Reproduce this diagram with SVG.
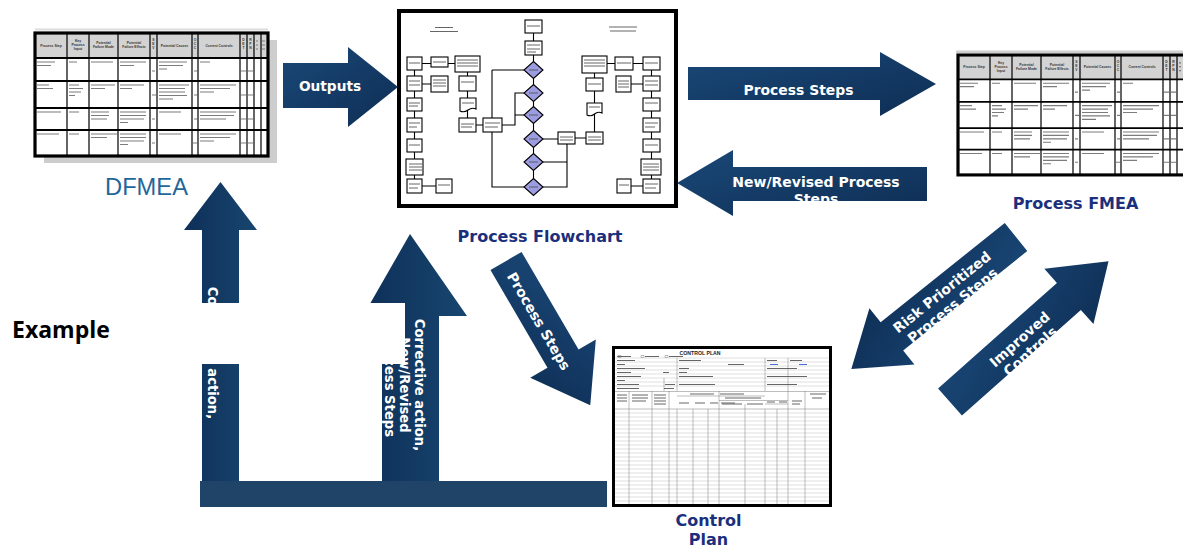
<svg xmlns="http://www.w3.org/2000/svg" xmlns:xlink="http://www.w3.org/1999/xlink" width="1183" height="548" viewBox="0 0 1183 548">
  <style>
    .arrow-label { font-family: "DejaVu Sans", Verdana, sans-serif; font-weight: bold; fill: #ffffff; }
    .doc-label { font-family: "DejaVu Sans", Verdana, sans-serif; font-weight: bold; fill: #1b2f7c; text-anchor: middle; }
    .frame { fill: #ffffff; stroke: #000000; }
    .hdr { font-family: "Liberation Sans", Arial, sans-serif; font-weight: bold; font-size: 3.4px; fill: #333; text-anchor: middle; }
    .cell-ink { fill: none; stroke: #7c7c7c; stroke-width: 1.2; }
    .grid { fill: none; stroke: #000; }
    .fb { fill: #ffffff; stroke: #000; stroke-width: 1.1; }
    .fd { fill: #9c9ce0; stroke: #000; stroke-width: 1.1; }
    .fl { fill: none; stroke: #000; stroke-width: 1.1; }
    .ink { fill: none; stroke: #555; stroke-width: 0.9; }
    .cp-thin { fill: none; stroke: #b8b8b8; stroke-width: 0.45; }
    .cp-col { fill: none; stroke: #7a7a7a; stroke-width: 0.5; }
  </style>
  <defs>
    <linearGradient id="navyDiag" x1="0" y1="0" x2="1" y2="1">
      <stop offset="0" stop-color="#1a4878"/>
      <stop offset="1" stop-color="#0e2e54"/>
    </linearGradient>
    <linearGradient id="navyVert" x1="0" y1="0" x2="1" y2="0">
      <stop offset="0" stop-color="#0e2f58"/>
      <stop offset="1" stop-color="#17466f"/>
    </linearGradient>

    <!-- FMEA worksheet, drawn once and reused -->
    <g id="fmea">
      <rect x="0" y="0" width="233" height="25" fill="#d3d3d3"/>
      <rect x="0" y="25" width="233" height="98" fill="#ffffff"/>
      <!-- header captions -->
      <text class="hdr" x="16" y="13.5">Process Step</text>
      <text class="hdr" x="43" y="9">Key</text>
      <text class="hdr" x="43" y="13">Process</text>
      <text class="hdr" x="43" y="17">Input</text>
      <text class="hdr" x="68.5" y="11">Potential</text>
      <text class="hdr" x="68.5" y="15">Failure Mode</text>
      <text class="hdr" x="99" y="11">Potential</text>
      <text class="hdr" x="99" y="15">Failure Effects</text>
      <text class="hdr" x="118.5" y="8">S</text>
      <text class="hdr" x="118.5" y="12">E</text>
      <text class="hdr" x="118.5" y="16">V</text>
      <text class="hdr" x="139.5" y="13.5">Potential Causes</text>
      <text class="hdr" x="160" y="8">O</text>
      <text class="hdr" x="160" y="12">C</text>
      <text class="hdr" x="160" y="16">C</text>
      <text class="hdr" x="184" y="13.5">Current Controls</text>
      <text class="hdr" x="208.5" y="8">D</text>
      <text class="hdr" x="208.5" y="12">E</text>
      <text class="hdr" x="208.5" y="16">T</text>
      <text class="hdr" x="215.5" y="8">R</text>
      <text class="hdr" x="215.5" y="12">P</text>
      <text class="hdr" x="215.5" y="16">N</text>
      <path class="cell-ink" d="M221 8h2M221 12h2M221 16h2M227 8h3M227 12h3M227 16h3"/>
      <!-- cell contents -->
      <path class="cell-ink" d="
        M2 29h18M2 32.5h14 M34 29h8 M56 29h22 M85 29h26M85 32.5h14 M117 38h3
        M124 29h28M124 32.5h24M124 36h8 M159 38h3 M165 29h10 M206 38h5M213 38h5
        M2 52h12M2 55.5h16 M34 52h10M34 55.5h14M34 59h12M34 62.5h6 M56 52h24M56 55.5h14
        M85 52h24M85 55.5h12 M117 62h4 M124 52h30M124 55.5h26M124 59h26M124 62.5h28M124 66h14
        M159 62h3 M165 52h36M165 55.5h30M165 59h14 M206 62h5M213 62h5
        M2 79h24 M34 79h10 M56 79h18M56 82.5h18M56 86h16 M85 79h26M85 82.5h26M85 86h24M85 89.5h8
        M117 86h3 M124 79h22 M159 86h3 M165 79h36M165 82.5h34M165 86h26 M206 86h5M213 86h5
        M2 101h22 M34 101h10 M56 101h26M56 104.5h16 M85 101h26M85 104.5h26M85 108h24M85 111.5h8
        M117 110h3 M124 101h22 M158 110h4 M165 101h36M165 104.5h30M165 108h14 M206 110h5M213 110h5"/>
      <!-- ruling -->
      <path class="grid" stroke-width="1.2" d="M32 0V123M54 0V123M83 0V123M115 0V123M122 0V123M157 0V123M163 0V123M205 0V123M212 0V123M219 0V123M226 0V123"/>
      <path class="grid" stroke-width="1.8" d="M0 25H233M0 48H233M0 75H233M0 97H233"/>
      <rect class="grid" x="0" y="0" width="233" height="123" stroke-width="3.2"/>
    </g>
  </defs>

  <rect width="1183" height="548" fill="#ffffff"/>

  <!-- DFMEA worksheet -->
  <g id="dfmea">
    <rect x="35" y="28.5" width="233" height="2" fill="#dcdcdc"/>
    <rect x="44" y="40" width="233" height="123" fill="#cdcdcd"/>
    <use xlink:href="#fmea" href="#fmea" transform="translate(35,33)"/>
    <text x="146.5" y="195" font-family="Liberation Sans, Arial, sans-serif" font-size="23.7" fill="#1f679b" text-anchor="middle">DFMEA</text>
  </g>

  <!-- Process flowchart sheet -->
  <g id="process-flowchart">
    <rect class="frame" x="399" y="11" width="277" height="195" stroke-width="4"/>
    <!-- sheet titles -->
    <path class="ink" stroke-width="1.4" d="M435 27.5h18M430 31.5h28M609 27h28M610 31h26"/>
    <!-- connectors between steps -->
    <path class="fl" d="
      M414.5 70V179 M422 63.5h9M448 63.5h7 M422 84h9 M422 186h14
      M467.5 72V118 M476 125h7 M502 125h13V93h9 M515 115h9
      M492 70h32 M492 70V118 M492 132V187h32
      M533.5 33V187
      M542 139h16 M575 138h11 M567 144V187h-25 M567 162h-25
      M594.5 73V132 M607 63.5h8 M633 63.5h10 M631 84h12 M651.5 70V179 M631 186h12"/>
    <!-- left lane -->
    <rect class="fb" x="407" y="57" width="15" height="13"/>
    <rect class="fb" x="407" y="76" width="15" height="15"/>
    <rect class="fb" x="407" y="98" width="15" height="13"/>
    <rect class="fb" x="407" y="118" width="15" height="14"/>
    <rect class="fb" x="407" y="139" width="15" height="13"/>
    <rect class="fb" x="406" y="159" width="17" height="16" stroke-width="1.6"/>
    <rect class="fb" x="407" y="179" width="15" height="14"/>
    <rect class="fb" x="431" y="57" width="17" height="10"/>
    <rect class="fb" x="431" y="76" width="17" height="16"/>
    <rect class="fb" x="436" y="179" width="16" height="14"/>
    <rect class="fb" x="455" y="56" width="25" height="16"/>
    <rect class="fb" x="459" y="76" width="17" height="15"/>
    <path class="fb" d="M460 98h16v11q-4 -2 -8 1t-8 1z"/>
    <rect class="fb" x="459" y="118" width="17" height="14"/>
    <rect class="fb" x="483" y="118" width="19" height="14"/>
    <!-- centre decision spine -->
    <rect class="fb" x="525" y="20" width="17" height="13"/>
    <rect class="fb" x="525" y="41" width="17" height="14"/>
    <path class="fd" d="M533.5 61.5l9.5 8.5l-9.5 8.5l-9.5 -8.5z"/>
    <path class="fd" d="M533.5 84.5l9.5 8.5l-9.5 8.5l-9.5 -8.5z"/>
    <path class="fd" d="M533.5 106.5l9.5 8.5l-9.5 8.5l-9.5 -8.5z"/>
    <path class="fd" d="M533.5 130.5l9.5 8.5l-9.5 8.5l-9.5 -8.5z"/>
    <path class="fd" d="M533.5 153.5l9.5 8.5l-9.5 8.5l-9.5 -8.5z"/>
    <path class="fd" d="M533.5 178.5l9.5 8.5l-9.5 8.5l-9.5 -8.5z"/>
    <rect class="fb" x="558" y="132" width="17" height="12"/>
    <!-- right lane -->
    <rect class="fb" x="582" y="56" width="25" height="17"/>
    <rect class="fb" x="586" y="78" width="17" height="13"/>
    <path class="fb" d="M587 103h15v10q-4 -2 -7.5 1t-7.5 1z"/>
    <rect class="fb" x="586" y="132" width="17" height="12"/>
    <rect class="fb" x="615" y="57" width="18" height="13"/>
    <rect class="fb" x="616" y="76" width="15" height="16"/>
    <rect class="fb" x="617" y="179" width="14" height="14"/>
    <rect class="fb" x="643" y="57" width="17" height="13"/>
    <rect class="fb" x="643" y="76" width="17" height="15"/>
    <rect class="fb" x="643" y="98" width="17" height="13"/>
    <rect class="fb" x="643" y="118" width="17" height="14"/>
    <rect class="fb" x="643" y="139" width="17" height="13"/>
    <rect class="fb" x="641" y="159" width="20" height="16"/>
    <rect class="fb" x="643" y="179" width="17" height="14"/>
    <!-- blurred step captions -->
    <path class="ink" stroke-width="0.8" d="
      M409 63h11M409 81h11M409 85h11M409 103h11M409 106h9M409 123h11M409 127h8M409 145h11M409 164h13M409 167h13M409 170h13M409 184h11M409 188h9
      M433 62h13M433 80h13M433 83h13M433 86h13M438 185h12
      M457 60h21M457 63h21M457 66h21M461 82h13M462 103h12M461 124h13M461 127h11M485 123h15M485 127h13
      M527 26h13M527 45h13M527 49h13M527 52h9
      M529 70h9M529 93h9M529 115h9M529 139h9M529 162h9M529 187h9 M560 137h13M560 140h13
      M584 60h21M584 63h21M584 66h21M588 84h13M589 107h11M588 137h13M588 140h13
      M617 63h14M618 81h11M618 84h11M618 87h11M619 185h10
      M645 63h13M645 81h13M645 85h13M645 103h13M645 123h13M645 127h10M645 145h13M643 164h16M643 167h16M643 170h16M645 184h13M645 188h11"/>
    <text class="doc-label" x="540" y="242" font-size="16">Process Flowchart</text>
  </g>

  <!-- Process FMEA worksheet (runs off the right edge) -->
  <g id="process-fmea">
    <rect x="956" y="50.5" width="227" height="2.5" fill="#cfcfcf"/>
    <use xlink:href="#fmea" href="#fmea" transform="translate(958,55) scale(1,0.975)"/>
    <text class="doc-label" x="1075.5" y="209" font-size="16">Process FMEA</text>
  </g>

  <!-- Control plan form -->
  <g id="control-plan">
    <rect class="frame" x="613.5" y="347.5" width="217" height="158" stroke-width="3"/>
    <text x="700" y="354.5" font-family="Liberation Sans, Arial, sans-serif" font-weight="bold" font-size="5.2" fill="#222" text-anchor="middle">CONTROL PLAN</text>
    <path class="cp-col" d="M618 355.5h3v2h-3zM641 355.5h3v2h-3zM665 355.5h3v2h-3z"/>
    <path class="cp-thin" d="M615 358H829M615 362H829M615 366H829M615 370H829M615 374H829M615 378H829M615 382H829M615 386H829"/>
    <path class="cp-col" d="M677 358V391M765 358V391M788 358V391M664 378V391"/>
    <path class="ink" stroke-width="0.6" stroke="#888" d="
      M617 356.5h14M645 356.5h14M669 356.5h14
      M617 360.5h18M679 360.5h22M767 360.5h10M790 360.5h12
      M617 364.5h8M728 364.5h16M617 368.5h28M679 368.5h10M767 368.5h30
      M617 372.5h14M663 372.5h6M679 372.5h8
      M617 376.5h24M679 376.5h34M767 376.5h40
      M617 380.5h8M617 384.5h22M665 384.5h10M679 384.5h36M767 384.5h30
      M617 388.5h22M664 388.5h10"/>
    <path fill="none" stroke="#4d6be0" stroke-width="1.2" d="M770 364.5h8M799 364.5h8"/>
    <!-- column headings band -->
    <path class="cp-col" stroke="#555" d="M615 391.5H829M615 409H829M677 396H765M719 400.5H788M765 404H788"/>
    <path class="ink" stroke-width="0.6" stroke="#888" d="
      M617 395h10M617 398h10M617 401h10 M632 395h16M632 398h16M632 401h14
      M654 395h12M654 398h12M654 401h12M654 404h12
      M690 394h24M679 403h10M695 403h10M710 403h8 M720 394h24M721 403h14
      M725 398h36M722 404h20M747 404h16 M767 402h8M779 402h8 M792 401h10M792 404h8
      M810 394h16M812 398h10"/>
    <!-- table body -->
    <path class="cp-thin" stroke="#dcdcdc" d="
      M615 413H829M615 417H829M615 421H829M615 425H829M615 429H829M615 433H829M615 437H829
      M615 441H829M615 445H829M615 449H829M615 453H829M615 457H829M615 461H829M615 465H829
      M615 469H829M615 473H829M615 477H829M615 481H829M615 485H829M615 489H829M615 493H829
      M615 497H829M615 501H829"/>
    <path class="cp-col" d="M629 391V504M652 391V504M669 391V504M677 409V504M693 409V504M708 409V504M719 391V504M745 404V504M765 409V504M777 409V504M788 391V504M805 391V504"/>
    <text class="doc-label" x="708.5" y="526" font-size="16">Control</text>
    <text class="doc-label" x="708.5" y="545" font-size="16">Plan</text>
  </g>

  <!-- Connectors -->
  <g id="connectors">
    <!-- Outputs: DFMEA to flowchart -->
    <g id="arrow-outputs">
      <path fill="url(#navyDiag)" d="M283 63H348V47L398 87L348 127V108H283Z"/>
      <text class="arrow-label" x="330" y="90.5" font-size="13.7" text-anchor="middle">Outputs</text>
    </g>
    <!-- Process Steps: flowchart to Process FMEA -->
    <g id="arrow-process-steps">
      <path fill="url(#navyDiag)" d="M688 67H880V52L936 84L880 116V100H688Z"/>
      <text class="arrow-label" x="798.5" y="95" font-size="13.9" text-anchor="middle">Process Steps</text>
    </g>
    <!-- New/Revised Process Steps: Process FMEA back to flowchart -->
    <g id="arrow-new-revised">
      <path fill="url(#navyDiag)" d="M927 167H733V150L677 183L733 216V201H927Z"/>
      <text class="arrow-label" font-size="14" text-anchor="middle"><tspan x="816" y="187">New/Revised Process</tspan><tspan x="816" y="204">Steps</tspan></text>
    </g>
    <!-- Process Steps: flowchart to control plan -->
    <g id="arrow-to-control-plan">
      <path fill="url(#navyDiag)" transform="translate(506,261) rotate(59.7)" d="M0 -18H113V-38L167 0L113 38V18H0Z"/>
      <text class="arrow-label" font-size="14" text-anchor="middle" transform="translate(534.5,323.7) rotate(59.7)">Process Steps</text>
    </g>
    <!-- Risk Prioritized Process Steps: Process FMEA to control plan -->
    <g id="arrow-risk-prioritized">
      <path fill="url(#navyDiag)" transform="translate(1016,237) rotate(141.3)" d="M0 -18H159V-36L211 0L159 36V18H0Z"/>
      <text class="arrow-label" font-size="14" text-anchor="middle" transform="translate(945,296) rotate(-38.7)"><tspan x="0" y="0">Risk Prioritized</tspan><tspan x="0" y="17">Process Steps</tspan></text>
    </g>
    <!-- Improved Controls: control plan to Process FMEA -->
    <g id="arrow-improved-controls">
      <path fill="url(#navyDiag)" transform="translate(950,402) rotate(-41.6)" d="M0 -18H159V-37L212 0L159 37V18H0Z"/>
      <text class="arrow-label" font-size="14" text-anchor="middle" transform="translate(1023,343) rotate(-41.6)"><tspan x="0" y="0">Improved</tspan><tspan x="0" y="16">Controls</tspan></text>
    </g>
    <!-- feedback loop from the control plan -->
    <g id="feedback-loop">
      <path fill="url(#navyVert)" d="M202 481V230H184L220.5 182L257 230H239V481Z"/>
      <text class="arrow-label" font-size="13.2" text-anchor="middle" transform="translate(208,353) rotate(90)">Corrective action,</text>
      <path fill="url(#navyVert)" d="M382 481V316H363L410 234L467 316H439V481Z"/>
      <text class="arrow-label" font-size="13.2" text-anchor="middle" transform="translate(415,385) rotate(90)"><tspan x="0" y="0">Corrective action,</tspan><tspan x="0" y="15">New/Revised</tspan><tspan x="0" y="30">Process Steps</tspan></text>
      <rect x="200" y="481" width="407" height="26" fill="#1f4468"/>
    </g>
  </g>

  <!-- blank panel laid over the feedback arrows -->
  <rect x="188" y="303" width="217" height="61" fill="#ffffff"/>

  <text x="12" y="338" font-family="Open Sans, Liberation Sans, sans-serif" font-weight="bold" font-size="23" fill="#000">Example</text>
</svg>
